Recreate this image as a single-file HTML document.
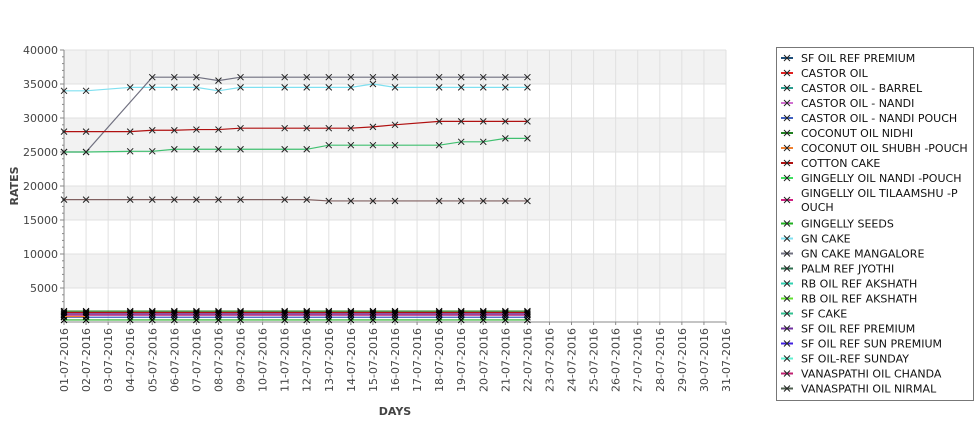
<!DOCTYPE html>
<html><head><meta charset="utf-8"><style>
body{margin:0;background:#fff;font-family:"DejaVu Sans","Liberation Sans",sans-serif;}
#c{position:absolute;left:0;top:0;}
</style></head><body>
<svg id="c" width="975" height="429" font-family="DejaVu Sans, Liberation Sans, sans-serif"></svg>
<script>
const dates=["01","02","03","04","05","06","07","08","09","10","11","12","13","14","15","16","17","18","19","20","21","22","23","24","25","26","27","28","29","30","31"];
const dataDays=["01","02","04","05","06","07","08","09","11","12","13","14","15","16","18","19","20","21","22"];
const yTicks=[5000,10000,15000,20000,25000,30000,35000,40000];
const gnCake=[34000,34000,34500,34500,34500,34500,34000,34500,34500,34500,34500,34500,35000,34500,34500,34500,34500,34500,34500];
const gnMangalore=[25000,25000,null,36000,36000,36000,35500,36000,36000,36000,36000,36000,36000,36000,36000,36000,36000,36000,36000];
const castorOil=[28000,28000,28000,28200,28200,28300,28300,28500,28500,28500,28500,28500,28700,29000,29500,29500,29500,29500,29500];
const gingellySeeds=[25000,25000,25100,25100,25400,25400,25400,25400,25400,25400,26000,26000,26000,26000,26000,26500,26500,27000,27000];
const cottonCake=[18000,18000,18000,18000,18000,18000,18000,18000,18000,18000,17800,17800,17800,17800,17800,17800,17800,17800,17800];
const low1=[1600,1600,1600,1600,1600,1600,1600,1600,1600,1600,1600,1600,1600,1600,1600,1600,1600,1600,1600];
const low2=[1400,1400,1400,1400,1400,1400,1400,1400,1400,1400,1400,1400,1400,1400,1400,1400,1400,1400,1400];
const low3=[1200,1200,1200,1200,1200,1200,1200,1200,1200,1200,1200,1200,1200,1200,1200,1200,1200,1200,1200];
const low4=[1000,1000,1000,1000,1000,1000,1000,1000,1000,1000,1000,1000,1000,1000,1000,1000,1000,1000,1000];
const low5=[700,700,700,700,700,700,700,700,700,700,700,700,700,700,700,700,700,700,700];
const low6=[300,300,300,300,300,300,300,300,300,300,300,300,300,300,300,300,300,300,300];
const shubh=[800,800];
const legendNames=[" SF OIL REF PREMIUM","CASTOR OIL","CASTOR OIL - BARREL","CASTOR OIL - NANDI","CASTOR OIL - NANDI POUCH","COCONUT OIL NIDHI","COCONUT OIL SHUBH -POUCH","COTTON CAKE","GINGELLY OIL NANDI -POUCH","GINGELLY OIL TILAAMSHU -P|OUCH","GINGELLY SEEDS","GN CAKE","GN CAKE MANGALORE","PALM REF JYOTHI","RB OIL REF  AKSHATH","RB OIL REF AKSHATH","SF CAKE","SF OIL REF PREMIUM","SF OIL REF SUN PREMIUM","SF OIL-REF SUNDAY","VANASPATHI OIL CHANDA","VANASPATHI OIL NIRMAL"];
const legendColors=["#1f4e79","#e02020","#2a9d8f","#d070d0","#4060c0","#208020","#f08030","#b01010","#40e060","#d02080","#20b020","#80e0f0","#707080","#307050","#30d0b0","#60e030","#30c090","#7030a0","#4020e0","#60f0d0","#c02070","#506050"];

const X0=64,X1=726,Y0=322,Y1=50,YMAX=40000;
const xs=d=>X0+(dates.indexOf(d))*(X1-X0)/30;
const ys=v=>Y0-v/YMAX*(Y0-Y1);
const svg=document.getElementById('c');const NS="http://www.w3.org/2000/svg";
function mk(t,a,p){const e=document.createElementNS(NS,t);for(const k in a)e.setAttribute(k,a[k]);(p||svg).appendChild(e);return e;}
// bands
for(let i=0;i<8;i++){if(i%2==1){const r=mk('rect',{x:X0,y:ys((i+1)*5000),width:X1-X0,height:ys(i*5000)-ys((i+1)*5000),fill:'#f2f2f2'});}}
dates.forEach(d=>{const l=mk('line',{x1:xs(d),x2:xs(d),y1:Y1,y2:Y0,stroke:'#e0e0e0'});});
yTicks.forEach(v=>{const l=mk('line',{x1:X0,x2:X1,y1:ys(v),y2:ys(v),stroke:'#e0e0e0'});
const t=mk('text',{x:58,y:ys(v)+4,'text-anchor':'end','font-size':11,fill:'#444'});t.textContent=v;});
for(let v=1000;v<=40000;v+=1000){mk('line',{x1:X0-(v%5000?2:4),x2:X0,y1:ys(v),y2:ys(v),stroke:'#888'});}
mk('line',{x1:X0,x2:X0,y1:Y1,y2:Y0+2,stroke:'#888'});mk('line',{x1:X0-2,x2:X1,y1:Y0,y2:Y0,stroke:'#888'});
dates.forEach(d=>{mk('line',{x1:xs(d),x2:xs(d),y1:Y0,y2:Y0+3,stroke:'#888'});
const t=mk('text',{transform:`translate(${xs(d)+4},${Y0+6}) rotate(-90)`,'text-anchor':'end','font-size':11,fill:'#444'});t.textContent=d+"-07-2016";});
function series(name,vals,color,mcolor){const g=mk('g',{});
const pts=[];vals.forEach((v,i)=>{if(v!=null)pts.push([xs(dataDays[i]),ys(v)]);});
mk('polyline',{points:pts.map(p=>p.join(',')).join(' '),fill:'none',stroke:color,'stroke-width':1.2},g);
pts.forEach(p=>{mk('path',{d:`M${p[0]-3},${p[1]-3}L${p[0]+3},${p[1]+3}M${p[0]-3},${p[1]+3}L${p[0]+3},${p[1]-3}`,stroke:mcolor||'#111','stroke-width':1},g);});}
series('gn-cake-line',gnCake,'#80e0f0','#222');
series('gn-cake-mangalore-line',gnMangalore,'#707080','#222');
series('castor-oil-line',castorOil,'#b01010','#222');
series('gingelly-seeds-line',gingellySeeds,'#40c070','#222');
series('cotton-cake-line',cottonCake,'#806060','#222');
series('low-series-1',low1,'#208020','#000');
series('low-series-2',low2,'#b01010','#000');
series('low-series-3',low3,'#7030a0','#000');
series('low-series-4',low4,'#c02070','#000');
series('low-series-5',low5,'#4060c0','#000');
series('low-series-6',low6,'#20b020','#000');
series('coconut-shubh-line',shubh,'#f08030','#000');
let t=mk('text',{transform:'translate(18,186) rotate(-90)','text-anchor':'middle','font-size':11,'font-weight':'bold',fill:'#444'});t.textContent='RATES';
t=mk('text',{x:395,y:415,'text-anchor':'middle','font-size':11,'font-weight':'bold',fill:'#444'});t.textContent='DAYS';
const lg=mk('g',{});
mk('rect',{x:776.5,y:47.5,width:197,height:353,fill:'#fff',stroke:'#777'},lg);
let y=58;
legendNames.forEach((n,i)=>{const parts=n.split('|');const cy=parts.length>1?y+7:y;
const e=mk('g',{},lg);
mk('line',{x1:781,x2:793,y1:cy,y2:cy,stroke:legendColors[i],'stroke-width':2},e);
mk('path',{d:`M784,${cy-3}L790,${cy+3}M784,${cy+3}L790,${cy-3}`,stroke:'#222'},e);
parts.forEach((p,j)=>{const tt=mk('text',{x:801,y:y+4+j*14,'font-size':11,fill:'#111','xml:space':'preserve'},e);tt.textContent=p;});
y+=parts.length>1?30.5:15;});
</script>
</body></html>
